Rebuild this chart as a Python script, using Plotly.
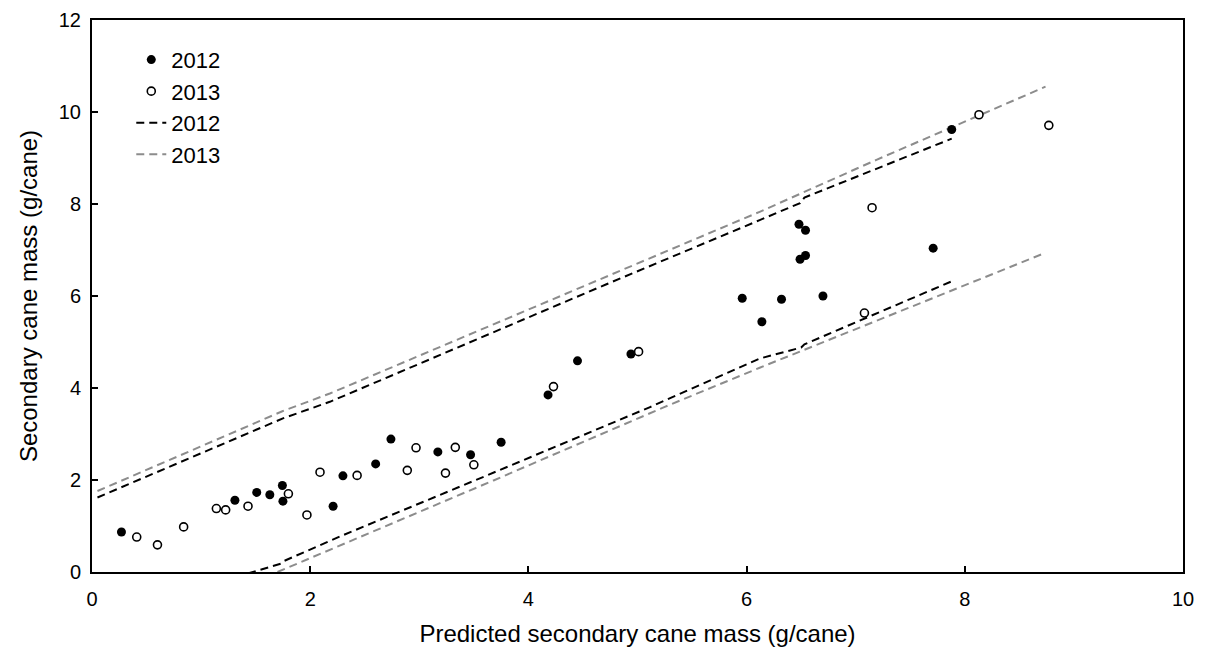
import plotly.graph_objects as go

# Observed secondary cane mass vs. predicted (g/cane)
pred_2012 = [0.27, 1.31, 1.51, 1.63, 1.745, 1.75, 2.21, 2.30, 2.60, 2.74, 3.17, 3.47, 3.75,
             4.18, 4.45, 4.94, 5.96, 6.14, 6.32, 6.48, 6.49, 6.54, 6.54, 6.70, 7.71, 7.88]
obs_2012 = [0.87, 1.56, 1.73, 1.68, 1.88, 1.54, 1.43, 2.09, 2.35, 2.89, 2.61, 2.55, 2.82,
            3.85, 4.59, 4.74, 5.95, 5.44, 5.93, 7.56, 6.80, 7.43, 6.88, 6.00, 7.04, 9.62]

pred_2013 = [0.41, 0.60, 0.84, 1.14, 1.225, 1.43, 1.80, 1.97, 2.09, 2.43, 2.89, 2.97, 3.24,
             3.33, 3.50, 4.23, 5.01, 7.08, 7.15, 8.13, 8.77]
obs_2013 = [0.76, 0.59, 0.98, 1.38, 1.35, 1.43, 1.70, 1.24, 2.17, 2.10, 2.21, 2.70, 2.15,
            2.71, 2.33, 4.03, 4.79, 5.63, 7.92, 9.94, 9.71]

# Prediction interval bounds
upper_2012_x = [0.05, 1.75, 2.18, 4.71, 6.12, 6.49, 6.53, 7.88]
upper_2012_y = [1.62, 3.34, 3.70, 6.25, 7.65, 8.02, 8.14, 9.42]
lower_2012_x = [1.43, 1.73, 1.76, 2.30, 3.60, 5.11, 6.12, 6.50, 6.53, 7.89]
lower_2012_y = [-0.03, 0.18, 0.24, 0.80, 2.08, 3.58, 4.64, 4.88, 4.95, 6.33]

upper_2013_x = [0.05, 1.75, 2.18, 4.71, 6.12, 7.19, 8.74]
upper_2013_y = [1.76, 3.50, 3.88, 6.42, 7.83, 8.96, 10.55]
lower_2013_x = [1.70, 3.68, 5.25, 6.12, 8.74]
lower_2013_y = [0.00, 1.99, 3.59, 4.44, 6.94]

BLACK = "#000000"
GREY = "#8c8c8c"
dash = "8px,5px"
FONT = "Liberation Sans, Arial, sans-serif"

fig = go.Figure()

# Interval lines (drawn beneath the points)
fig.add_trace(go.Scatter(x=upper_2012_x, y=upper_2012_y, mode="lines", name="2012",
                         line=dict(color=BLACK, width=2, dash=dash), legendrank=3,
                         legendgroup="l2012"))
fig.add_trace(go.Scatter(x=lower_2012_x, y=lower_2012_y, mode="lines", name="2012",
                         line=dict(color=BLACK, width=2, dash=dash), showlegend=False,
                         legendgroup="l2012"))
fig.add_trace(go.Scatter(x=upper_2013_x, y=upper_2013_y, mode="lines", name="2013",
                         line=dict(color=GREY, width=2, dash=dash), legendrank=4,
                         legendgroup="l2013"))
fig.add_trace(go.Scatter(x=lower_2013_x, y=lower_2013_y, mode="lines", name="2013",
                         line=dict(color=GREY, width=2, dash=dash), showlegend=False,
                         legendgroup="l2013"))

# Observations
fig.add_trace(go.Scatter(x=pred_2012, y=obs_2012, mode="markers", name="2012",
                         marker=dict(symbol="circle", size=9, color=BLACK), legendrank=1))
fig.add_trace(go.Scatter(x=pred_2013, y=obs_2013, mode="markers", name="2013",
                         marker=dict(symbol="circle", size=8, color="white",
                                     line=dict(color=BLACK, width=1.6)), legendrank=2))

axis_common = dict(
    showline=True, linecolor=BLACK, linewidth=2, mirror=True,
    ticks="inside", ticklen=6, tickwidth=1.5, tickcolor=BLACK,
    showgrid=False, zeroline=False, automargin=False,
    tickfont=dict(family=FONT, size=20, color=BLACK),
)

fig.update_layout(
    width=1205, height=652,
    margin=dict(l=92, r=22, t=20, b=80),
    paper_bgcolor="white", plot_bgcolor="white",
    font=dict(family=FONT, size=20, color=BLACK),
    xaxis=dict(range=[0, 10], dtick=2, ticklabelstandoff=8,
               title=dict(text="Predicted secondary cane mass (g/cane)", standoff=16),
               **axis_common),
    yaxis=dict(range=[0, 12], dtick=2, ticklabelstandoff=5,
               title=dict(text="Secondary cane mass (g/cane)", standoff=14),
               **axis_common),
    legend=dict(x=0.036, y=0.966, xanchor="left", yanchor="top",
                bgcolor="rgba(0,0,0,0)", borderwidth=0,
                font=dict(size=22), tracegroupgap=0, itemwidth=30),
    showlegend=True,
)

fig.write_html("out.html")
